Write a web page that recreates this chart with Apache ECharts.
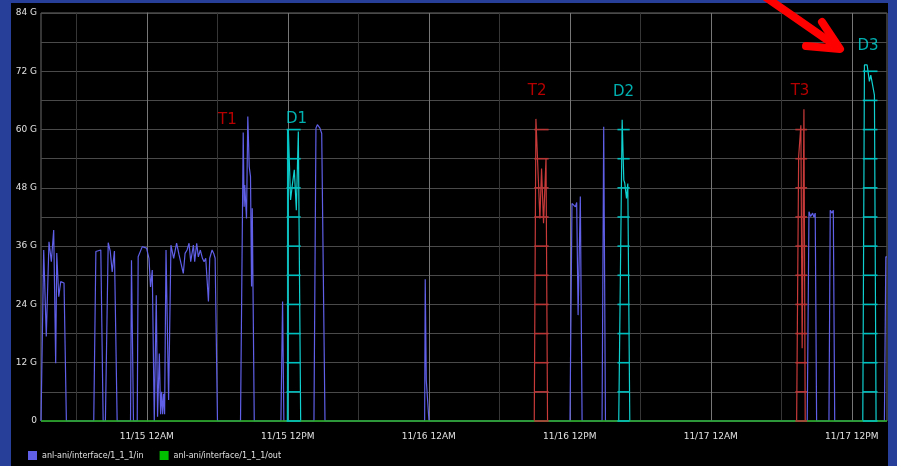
<!DOCTYPE html>
<html><head><meta charset="utf-8">
<script src="https://cdn.jsdelivr.net/npm/echarts@6/dist/echarts.min.js"></script>
<style>html,body{margin:0;padding:0;background:#000;}#c{width:897px;height:466px;}</style>
</head><body><div id="c"></div>
<script>
// x values are hours relative to 11/15 00:00, y values in G
const tickHours = [0, 12, 24, 36, 48, 60];
const tickLabels = ['11/15 12AM', '11/15 12PM', '11/16 12AM', '11/16 12PM', '11/17 12AM', '11/17 12PM'];
const yLabelStep = 12;

const inName = 'anl-ani/interface/1_1_1/in';
const outName = 'anl-ani/interface/1_1_1/out';

const inValues = [
 [-9,0],[-8.83,0],[-8.77,35.2],[-8.55,17.4],[-8.32,36.9],[-8.17,36.9],[-8.12,32.8],[-7.92,39.3],[-7.75,11.9],[-7.66,34.6],[-7.49,25.6],[-7.32,28.7],[-7.04,28.4],[-6.84,0],
 [-4.51,0],[-4.33,34.9],[-3.91,35.2],[-3.71,0],[-3.52,0],[-3.28,36.7],[-3.11,35.0],[-2.94,30.7],[-2.75,35.0],[-2.52,0],
 [-1.38,0],[-1.30,33.1],[-1.13,0],
 [-0.81,0],[-0.73,33.8],[-0.38,35.9],[-0.02,35.6],[0.19,33.5],[0.32,27.6],[0.47,31.1],[0.55,30.9],[0.64,0],[0.81,25.9],[0.92,0.9],[1.07,13.9],[1.18,1.4],[1.26,6.0],[1.35,1.4],[1.43,5.6],[1.52,1.4],[1.64,35.2],[1.86,4.3],[2.06,36.2],[2.29,33.5],[2.54,36.6],[2.75,34.2],[2.92,33.8],[3.11,30.4],[3.26,34.5],[3.43,35.2],[3.60,36.6],[3.74,32.8],[3.97,36.2],[4.08,32.8],[4.25,36.6],[4.39,33.8],[4.56,35.2],[4.74,33.5],[4.88,32.8],[5.02,33.5],[5.25,24.6],[5.36,33.5],[5.56,35.2],[5.70,34.5],[5.82,33.5],[6.02,0],
 [7.98,0],[8.21,59.4],[8.29,44.1],[8.34,48.6],[8.49,41.7],[8.60,62.7],[8.72,52.4],[8.83,50.3],[8.92,27.7],[8.98,43.8],[9.15,0],
 [11.42,0],[11.56,24.6],[11.67,0],
 [14.23,0],[14.40,60.3],[14.52,61.0],[14.74,60.3],[14.89,59.2],[15.17,0],
 [23.65,0],[23.70,29.2],[23.79,8.4],[23.91,8.2],[24.02,0],
 [36.02,0],[36.19,44.8],[36.48,44.1],[36.59,45.0],[36.71,21.8],[36.90,46.2],[37.05,0],
 [38.75,0],[38.89,60.6],[39.04,0],
 [56.21,0],[56.36,43.1],[56.50,42.1],[56.67,42.8],[56.78,42.0],[56.89,42.8],[57.01,0],
 [58.06,0],[58.17,43.4],[58.32,42.8],[58.43,43.4],[58.55,0],
 [62.78,0],[62.90,33.8],[63,33.8]
];
const outValues = [[-9,0],[63,0]];

const burstD1 = [[11.97,0],[12.05,59.9],[12.24,45.5],[12.39,48.6],[12.56,51.7],[12.73,43.4],[12.90,59.6],[13.10,0]];
const burstT2 = [[32.98,0],[33.12,62.2],[33.46,41.7],[33.60,52.0],[33.77,40.7],[33.98,54.1],[34.11,0]];
const burstD2 = [[40.17,0],[40.46,62.0],[40.60,49.6],[40.68,49.0],[40.83,45.8],[40.94,48.9],[41.11,0]];
const burstT3 = [[55.31,0],[55.48,54.4],[55.67,60.9],[55.78,15.0],[55.93,64.2],[56.04,0]];
const burstD3 = [[60.94,0],[61.08,73.3],[61.31,73.3],[61.50,69.9],[61.62,71.2],[61.93,67.1],[62.07,0]];

// tinted regions: [fromHour, toHour, topG]
const tintBoxes = [[11.9,13.1,60],[32.98,34.2,60],[40.06,41.1,60],[55.2,56.2,60],[60.94,62.19,72]];
const tintKinds = ['D','T','D','T','D'];

const annotNames = ['T1','D1','T2','D2','T3','D3'];
const annotX = [6.87, 12.75, 33.23, 40.57, 55.6, 61.39];
const annotY = [62.0, 62.2, 67.9, 67.7, 67.9, 77.2];

const BLUE = '#5f5fe8', CYAN = '#10d0d0', RED = '#c83a3a', GREEN = '#22b022';
const tintLineColor = {D: '#00c0c0', T: '#b83838'};
const traceColor = {D: CYAN, T: RED};
const labelColor = {D: '#00dcdc', T: '#e40000'};

const bursts = [[burstD1,'D'],[burstT2,'T'],[burstD2,'D'],[burstT3,'T'],[burstD3,'D']];

// grid segments inside tinted regions: [x0, y0, x1, y1, kindIndex]
const tintSegs = [];
tintBoxes.forEach((b, i) => {
  for (let g = 0; g <= b[2]; g += 6) tintSegs.push([b[0], g, b[1], g, i]);
  for (let v = Math.ceil(b[0] / 6) * 6; v <= b[1]; v += 6) tintSegs.push([v, 0, v, b[2], i]);
});

const chart = echarts.init(document.getElementById('c'), null, {renderer: 'canvas'});
const FONT = 'DejaVu Sans';

const series = [{
  name: inName, type: 'line', data: inValues, showSymbol: false, symbol: 'none',
  lineStyle: {color: BLUE, width: 1.2}, itemStyle: {color: BLUE}, z: 2, animation: false
}];
bursts.forEach(([d, k]) => series.push({
  type: 'line', data: d, symbol: 'none', lineStyle: {color: traceColor[k], width: 1.2}, z: 3, animation: false
}));
series.push({
  name: outName, type: 'line', data: outValues, symbol: 'none', clip: false,
  lineStyle: {color: GREEN, width: 1.5}, itemStyle: {color: '#00c000'}, z: 4, animation: false
});
series.push({
  type: 'custom', z: 5, animation: false, silent: true, clip: false,
  data: tintSegs,
  encode: {x: [0, 2], y: [1, 3]},
  renderItem: function (params, api) {
    const a = api.coord([api.value(0), api.value(1)]);
    const b = api.coord([api.value(2), api.value(3)]);
    const col = tintLineColor[tintKinds[api.value(4)]];
    const horiz = Math.abs(a[1] - b[1]) < 0.5;
    const shape = horiz
      ? {x1: a[0], y1: a[1], x2: b[0], y2: a[1]}
      : {x1: a[0], y1: a[1], x2: a[0], y2: b[1]};
    return {type: 'line', shape: shape, style: {stroke: col, lineWidth: 1.6}};
  }
});
series.push({
  type: 'scatter', symbolSize: 0, z: 6, silent: true, animation: false,
  data: annotNames.map((n, i) => ({
    name: n, value: [annotX[i], annotY[i]],
    label: {show: true, position: 'inside', formatter: n, color: labelColor[n[0]], fontSize: 15, fontFamily: FONT,
      textBorderWidth: 0, textBorderColor: 'transparent', textShadowBlur: 0}
  }))
});

const option = {
  backgroundColor: '#000',
  animation: false,
  grid: {left: 41, top: 13, right: 10, bottom: 45, show: true, borderColor: '#6a6a6a', borderWidth: 1, containLabel: false, outerBoundsMode: 'none'},
  legend: {
    data: [inName, outName], left: 28, top: 451, icon: 'rect', itemWidth: 9, itemHeight: 9, itemGap: 16,
    textStyle: {color: '#e0e0e0', fontSize: 8, fontFamily: FONT}, padding: 0
  },
  xAxis: {
    type: 'value', min: -9, max: 63, interval: 3,
    axisLine: {show: false}, axisTick: {show: false},
    axisLabel: {
      color: '#e0e0e0', fontSize: 9, fontFamily: FONT, margin: 11, showMinLabel: true, showMaxLabel: true,
      formatter: v => { const i = tickHours.indexOf(Math.round(v)); return i >= 0 ? tickLabels[i] : ''; }
    },
    splitLine: {show: true, showMinLine: true, showMaxLine: true,
      lineStyle: {color: ['rgba(0,0,0,0)', '#363636', 'rgba(0,0,0,0)', '#777777'], width: 1}}
  },
  yAxis: {
    type: 'value', min: 0, max: 84, interval: 6,
    axisLine: {show: true, lineStyle: {color: '#777'}}, axisTick: {show: false},
    axisLabel: {
      color: '#e0e0e0', fontSize: 9, fontFamily: FONT, margin: 4,
      formatter: v => (v % yLabelStep === 0 ? (v === 0 ? '0' : v + ' G') : '')
    },
    splitLine: {show: true, lineStyle: {color: '#4a4a4a', width: 1}}
  },
  graphic: [
    {type: 'rect', z: 100, silent: true, shape: {x: 0, y: 0, width: 11, height: 466}, style: {fill: '#273f98'}},
    {type: 'rect', z: 100, silent: true, shape: {x: 0, y: 0, width: 897, height: 3}, style: {fill: '#273f98'}},
    {type: 'rect', z: 100, silent: true, shape: {x: 888, y: 0, width: 9, height: 466}, style: {fill: '#273f98'}},
    {type: 'line', z: 110, silent: true, shape: {x1: 764, y1: -4, x2: 836, y2: 46}, style: {stroke: '#ff0000', lineWidth: 8, lineCap: 'round'}},
    {type: 'polyline', z: 110, silent: true, shape: {points: [[822, 22], [840, 49], [806, 46]]}, style: {stroke: '#ff0000', lineWidth: 8, lineCap: 'round', lineJoin: 'round', fill: null}}
  ],
  series: series
};
chart.setOption(option);
</script></body></html>
